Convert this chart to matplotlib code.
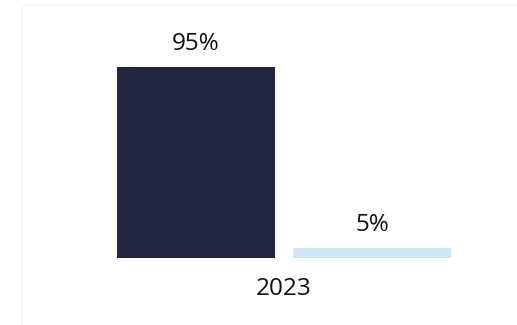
import matplotlib.pyplot as plt
from matplotlib.patches import FancyBboxPatch

categories = ['2023']
series_names = ['Yes', 'No']
values = [95, 5]
labels = ['95%', '5%']
colors = ['#222641', '#cce7f8']

plt.rcParams['font.family'] = ['Open Sans', 'DejaVu Sans']

fig = plt.figure(figsize=(5.17, 3.25), dpi=100)

# faint card outline
fig.patches.append(FancyBboxPatch((22 / 517, -0.1), 1.2, (325 - 5) / 325 + 0.1,
                                  boxstyle='round,pad=0,rounding_size=0.015',
                                  transform=fig.transFigure, facecolor='none',
                                  edgecolor='#f7f7f7', linewidth=1.2))

ax = fig.add_axes([117 / 517, 67 / 325, 334 / 517, 201 / 325])

w = 0.476
gap = 0.051
offsets = [-(w + gap) / 2, (w + gap) / 2]

for off, v, lab, c in zip(offsets, values, labels, colors):
    ax.bar(0 + off, v, width=w, color=c)
    ax.annotate(lab, (0 + off, v), xytext=(0, 12.5), textcoords='offset points',
                ha='center', va='baseline', fontsize=17.5, color='#111111')

ax.set_xlim(-0.5, 0.5)
ax.set_ylim(0, 100)
ax.set_xticks([0])
ax.set_xticklabels(categories, fontsize=17.5, color='#111111')
ax.tick_params(axis='x', length=0, pad=14)
ax.set_yticks([])
for s in ax.spines.values():
    s.set_visible(False)
ax.patch.set_alpha(0)

fig.savefig('out.png', dpi=100)
